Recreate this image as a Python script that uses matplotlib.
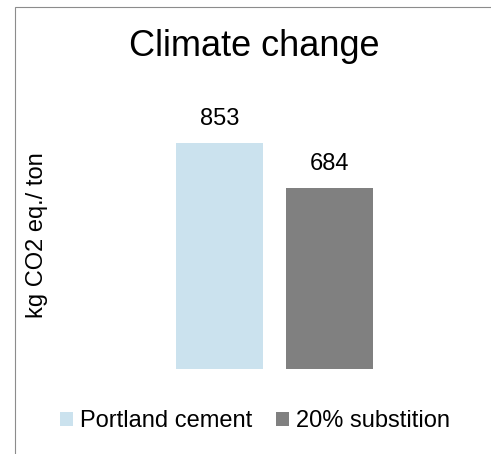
import matplotlib
matplotlib.use("Agg")
import matplotlib.pyplot as plt
from matplotlib.patches import Rectangle, Patch

# data
series = ["Portland cement", "20% substition"]
values = [853, 684]
colors = ["#cbe2ee", "#808080"]

plt.rcParams['font.family'] = ['Liberation Sans', 'DejaVu Sans']

W, H = 491, 454
fig = plt.figure(figsize=(W / 100, H / 100), dpi=100)

# axes placed in pixel coords: baseline at y=369, x units of 110 px
left, right, top, bottom = 109.5, 439.5, 104, 369
ax = fig.add_axes([left / W, 1 - bottom / H, (right - left) / W, (bottom - top) / H])

bars = ax.bar([0, 1], values, width=0.79, color=colors)
ax.bar_label(bars, labels=[str(v) for v in values], padding=9, fontsize=17)
ax.set_xlim(-1, 2)
ax.set_ylim(0, 1000)
ax.axis('off')

# chart frame (only left and top edges visible)
fig.patches.append(Rectangle((14.5 / W, -0.1), 2, 1.1 - 7.5 / H, transform=fig.transFigure,
                             fill=False, edgecolor='#8c8c8c', linewidth=0.8))

fig.text(254 / W, 1 - 47 / H, "Climate change", ha='center', va='center', fontsize=26)
fig.text(37 / W, 1 - 235 / H, "kg CO2 eq./ ton", ha='center', va='center',
         rotation=90, fontsize=17)

handles = [Patch(facecolor=c, edgecolor='none') for c in colors]
fig.legend(handles, series, loc='center', bbox_to_anchor=(255 / W, 1 - 421 / H), ncol=2,
           frameon=False, fontsize=17, handlelength=0.55, handleheight=0.55,
           handletextpad=0.3, columnspacing=1.0, borderpad=0)

fig.savefig("out.png", dpi=100)
